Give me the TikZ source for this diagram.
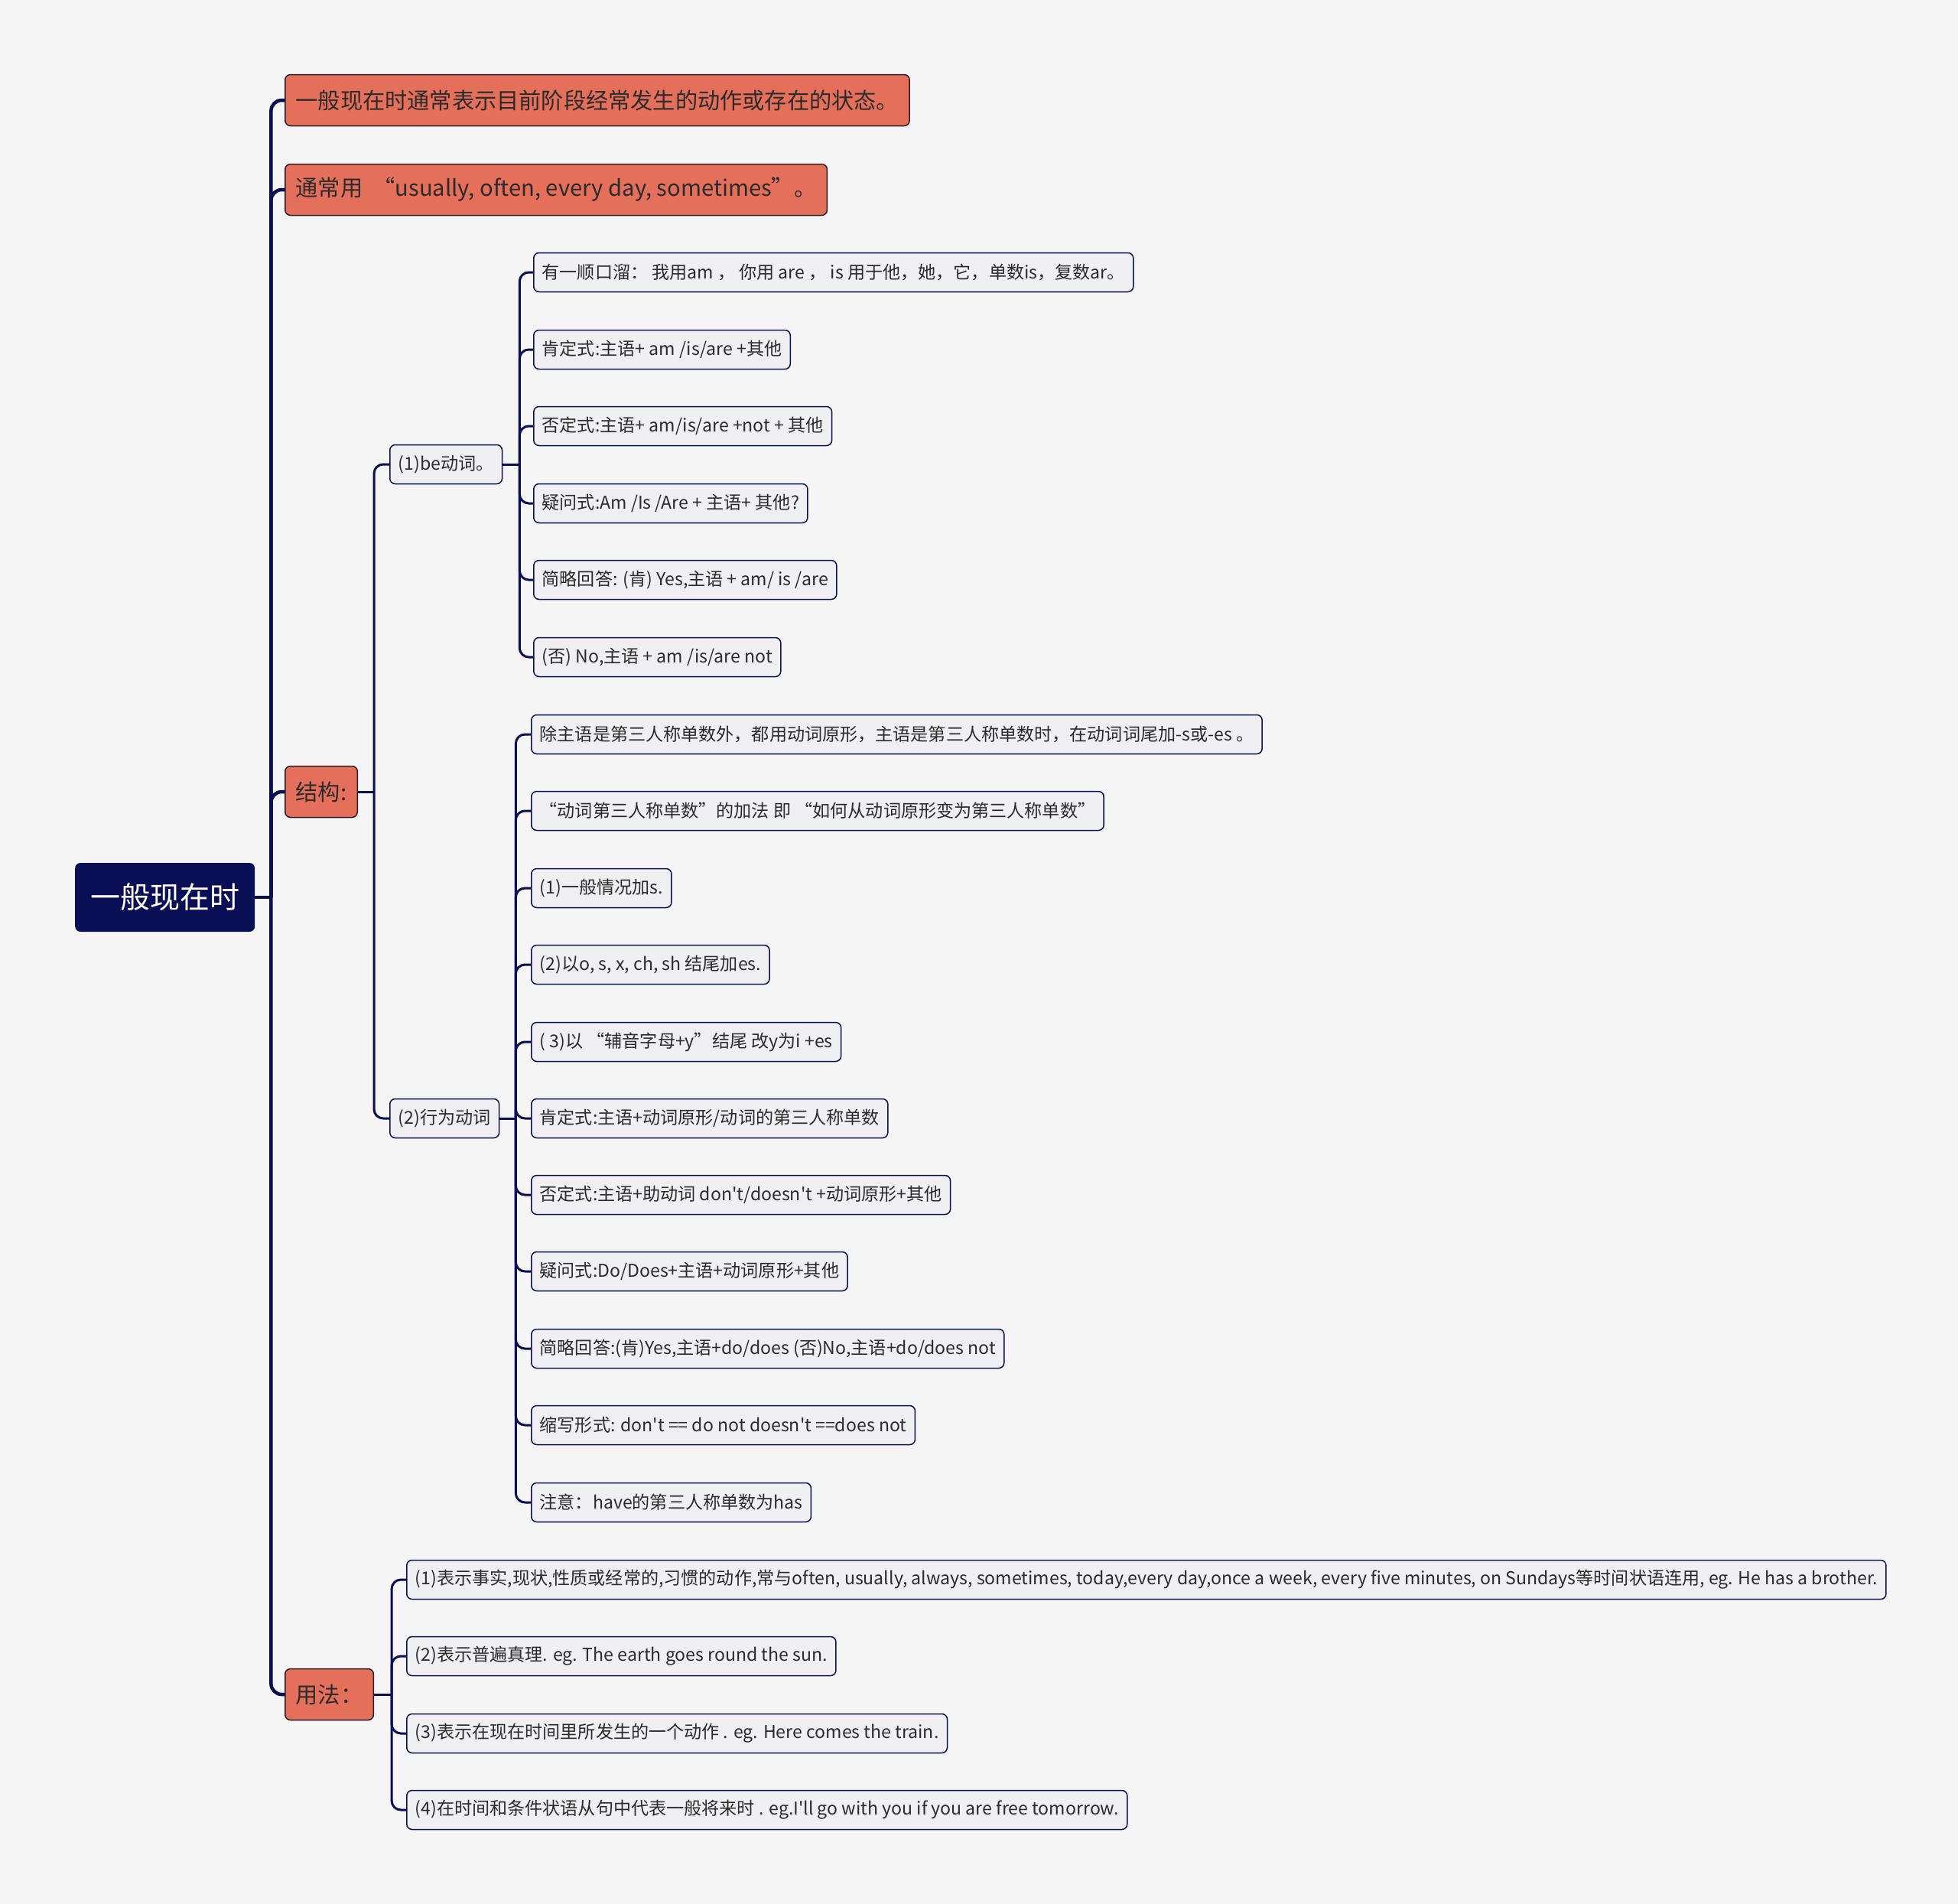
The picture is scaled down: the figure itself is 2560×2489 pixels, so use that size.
\documentclass[tikz,border=0pt]{standalone}
\usepackage{fontspec}
\setmainfont{Noto Sans CJK SC}[Ligatures=TeXOff]
\usepackage{xcolor}
\usepackage{tikz}

\definecolor{navy}{HTML}{0A0F55}
\definecolor{coral}{HTML}{E4705B}
\definecolor{paper}{HTML}{F5F5F5}
\definecolor{leaffill}{HTML}{F0F0F2}
\definecolor{ink}{HTML}{2B2B2B}
\definecolor{coraledge}{HTML}{2A1A2A}

\begin{document}
\begin{tikzpicture}[x=1pt,y=-1pt,
	rootnode/.style={fill=navy, text=white, rounded corners=7pt, font=\fontsize{39}{39}\selectfont, minimum height=90pt, inner xsep=20pt, anchor=west},
	topicnode/.style={draw=coraledge, line width=1.5pt, fill=coral, text=ink, rounded corners=7pt, font=\fontsize{29.2}{29.2}\selectfont, minimum height=67pt, inner xsep=14pt, anchor=west},
	leafnode/.style={draw=navy, line width=1.5pt, fill=leaffill, text=ink, rounded corners=7pt, font=\fontsize{23.1}{23.1}\selectfont, minimum height=51pt, inner xsep=11pt, anchor=west},
	trunkline/.style={draw=navy, line width=4.5pt, rounded corners=14pt},
	branchline/.style={draw=navy, line width=3pt, rounded corners=12pt}]

\useasboundingbox[fill=paper] (0,0) rectangle (2560,2489);

% root and main topics
\node[rootnode] (root) at (98,1173) {一般现在时};

\node[topicnode] (def) at (372,131) {一般现在时通常表示目前阶段经常发生的动作或存在的状态。};
\node[topicnode] (often) at (372,248) {通常用\ \ “usually, often, every day, sometimes”。};
\node[topicnode] (struct) at (372,1035) {结构:};
\node[topicnode] (usage) at (372,2215) {用法：};

% structure
\node[leafnode] (be) at (509,607) {(1)be动词。};
\node[leafnode] (verb) at (509,1462) {(2)行为动词};

\node[leafnode] (be1) at (697,356) {有一顺口溜： 我用am ， 你用 are ， is 用于他，她，它，单数is，复数ar。};
\node[leafnode] (be2) at (697,457) {肯定式:主语+ am /is/are +其他};
\node[leafnode] (be3) at (697,557) {否定式:主语+ am/is/are +not + 其他};
\node[leafnode] (be4) at (697,658) {疑问式:Am /Is /Are + 主语+ 其他?};
\node[leafnode] (be5) at (697,758) {简略回答: (肯) Yes,主语 + am/ is /are};
\node[leafnode] (be6) at (697,859) {(否) No,主语 + am /is/are not};

\node[leafnode] (v1) at (694,960) {除主语是第三人称单数外，都用动词原形，主语是第三人称单数时，在动词词尾加-s或-es 。};
\node[leafnode] (v2) at (694,1060) {“动词第三人称单数”的加法 即 “如何从动词原形变为第三人称单数”};
\node[leafnode] (v3) at (694,1161) {(1)一般情况加s.};
\node[leafnode] (v4) at (694,1261) {(2)以o, s, x, ch, sh 结尾加es.};
\node[leafnode] (v5) at (694,1362) {( 3)以 “辅音字母+y”结尾 改y为i +es};
\node[leafnode] (v6) at (694,1462) {肯定式:主语+动词原形/动词的第三人称单数};
\node[leafnode] (v7) at (694,1562) {否定式:主语+助动词 don't/doesn't +动词原形+其他};
\node[leafnode] (v8) at (694,1662) {疑问式:Do/Does+主语+动词原形+其他};
\node[leafnode] (v9) at (694,1763) {简略回答:(肯)Yes,主语+do/does (否)No,主语+do/does not};
\node[leafnode] (v10) at (694,1863) {缩写形式: don't == do not doesn't ==does not};
\node[leafnode] (v11) at (694,1964) {注意：have的第三人称单数为has};

% usage
\node[leafnode] (u1) at (531,2065) {(1)表示事实,现状,性质或经常的,习惯的动作,常与often, usually, always, sometimes, today,every day,once a week, every five minutes, on Sundays等时间状语连用, eg. He has a brother.};
\node[leafnode] (u2) at (531,2165) {(2)表示普遍真理. eg. The earth goes round the sun.};
\node[leafnode] (u3) at (531,2266) {(3)表示在现在时间里所发生的一个动作 . eg. Here comes the train.};
\node[leafnode] (u4) at (531,2366) {(4)在时间和条件状语从句中代表一般将来时 . eg.I'll go with you if you are free tomorrow.};

% connectors
\coordinate (rj) at ([xshift=21pt]root.east);
\draw[trunkline] (root.east) -- (rj);
\foreach \c in {def,often,struct,usage}
	\draw[trunkline] (rj) |- (\c.west);

\coordinate (sj) at ([xshift=21pt]struct.east);
\draw[branchline] (struct.east) -- (sj);
\foreach \c in {be,verb}
	\draw[branchline] (sj) |- (\c.west);

\coordinate (bj) at ([xshift=22pt]be.east);
\draw[branchline] (be.east) -- (bj);
\foreach \c in {be1,be2,be3,be4,be5,be6}
	\draw[branchline] (bj) |- (\c.west);

\coordinate (vj) at ([xshift=21pt]verb.east);
\draw[branchline] (verb.east) -- (vj);
\foreach \c in {v1,v2,v3,v4,v5,v6,v7,v8,v9,v10,v11}
	\draw[branchline] (vj) |- (\c.west);

\coordinate (uj) at ([xshift=23pt]usage.east);
\draw[branchline] (usage.east) -- (uj);
\foreach \c in {u1,u2,u3,u4}
	\draw[branchline] (uj) |- (\c.west);

\end{tikzpicture}
\end{document}
